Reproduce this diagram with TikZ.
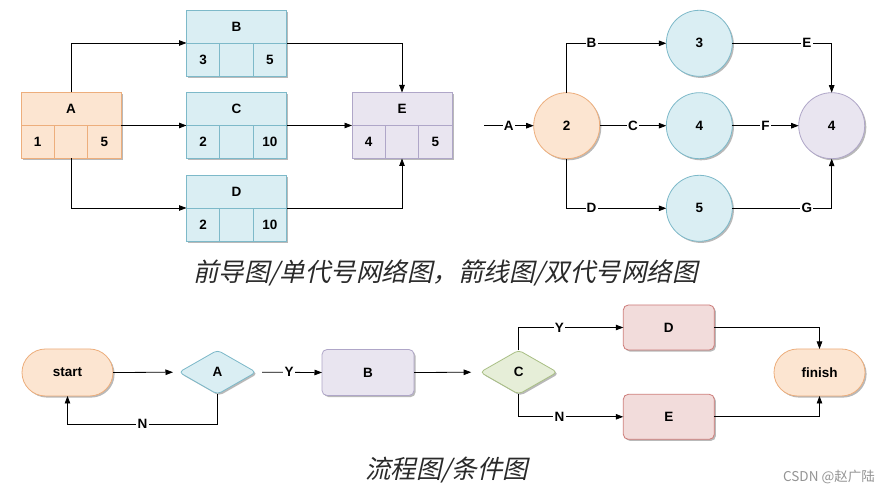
\documentclass[tikz,border=0pt]{standalone}
\usepackage{fontspec}
\setmainfont{Liberation Sans}
\newfontfamily\cjkit[FakeSlant=0.22]{Noto Sans CJK SC}
\newfontfamily\cjkplain{Noto Sans CJK SC}
\usetikzlibrary{arrows.meta,shapes.geometric,shapes.misc,shadows}
\definecolor{orF}{HTML}{FCE5D1}
\definecolor{orD}{HTML}{EDAE7C}
\definecolor{blF}{HTML}{DAEEF3}
\definecolor{blD}{HTML}{7DB9C9}
\definecolor{lvF}{HTML}{E9E5F0}
\definecolor{lvD}{HTML}{AFA6C8}
\definecolor{grF}{HTML}{E6EED8}
\definecolor{grD}{HTML}{A9BF85}
\definecolor{pkF}{HTML}{F2DCDB}
\definecolor{pkD}{HTML}{CD7B78}
\definecolor{capc}{HTML}{2A2A2A}
\tikzset{
  shad/.style={drop shadow={shadow xshift=1.6pt,shadow yshift=-1.6pt,fill=black!50,opacity=.55}},
  txt/.style={font=\bfseries\fontsize{13.5}{14}\selectfont, inner sep=0pt},
  lab/.style={fill=white, inner sep=1.2pt, font=\bfseries\fontsize{13.5}{14}\selectfont},
  arr/.style={draw=black, line width=0.8pt, -{Triangle[length=7.5pt,width=5.5pt]}},
  ln/.style={draw=black, line width=0.8pt},
  tbox/.style 2 args={draw=#2, fill=#1, line width=0.8pt, shad, minimum width=100, minimum height=66, inner sep=0pt, outer sep=0pt},
  circ/.style 2 args={circle, draw=#2, fill=#1, line width=0.8pt, shad, minimum size=66, inner sep=0pt, outer sep=0pt, font=\bfseries\fontsize{13.5}{14}\selectfont},
  stad/.style 2 args={rounded rectangle, draw=#2, fill=#1, line width=0.8pt, shad, minimum width=91, minimum height=47, inner sep=0pt, outer sep=0pt, font=\bfseries\fontsize{13.5}{14}\selectfont},
  rbox/.style 2 args={rectangle, rounded corners=5pt, draw=#2, fill=#1, line width=0.8pt, shad, minimum width=92, minimum height=46, inner sep=0pt, outer sep=0pt, font=\bfseries\fontsize{13.5}{14}\selectfont},
  dia/.style 2 args={diamond, rounded corners=4pt, draw=#2, fill=#1, line width=0.8pt, shad, minimum width=77, minimum height=44, inner sep=0pt, outer sep=0pt, font=\bfseries\fontsize{13.5}{14}\selectfont},
}
% name, x, y, label, left number, right number, fill, draw
\newcommand\taskbox[8]{%
  \node[tbox={#7}{#8}] (#1) at (#2,#3) {};
  \draw[#8, line width=0.8pt] (#1.west) -- (#1.east);
  \draw[#8, line width=0.8pt] ([xshift=33.3pt]#1.south west) -- ([xshift=33.3pt]#1.west);
  \draw[#8, line width=0.8pt] ([xshift=-33.3pt]#1.south east) -- ([xshift=-33.3pt]#1.east);
  \node[txt] (#1-t) at (#2,#3-16.5) {#4};
  \node[txt] (#1-l) at (#2-33.3,#3+16.5) {#5};
  \node[txt] (#1-r) at (#2+33.3,#3+16.5) {#6};
}
\begin{document}
\begin{tikzpicture}[x=1pt,y=-1pt]
\fill[white] (0,0) rectangle (895,494);
\useasboundingbox (0,0) rectangle (895,494);

% ---------- precedence diagram ----------
\taskbox{A}{71}{125.5}{A}{1}{5}{orF}{orD}
\taskbox{B}{236.5}{43}{B}{3}{5}{blF}{blD}
\taskbox{C}{236.5}{125.5}{C}{2}{10}{blF}{blD}
\taskbox{D}{236.5}{208}{D}{2}{10}{blF}{blD}
\taskbox{E}{402}{125.5}{E}{4}{5}{lvF}{lvD}
\draw[arr] (A.north) |- (B.west);
\draw[arr] (A.east) -- (C.west);
\draw[arr] (A.south) |- (D.west);
\draw[arr] (B.east) -| (E.north);
\draw[arr] (C.east) -- (E.west);
\draw[arr] (D.east) -| (E.south);

% ---------- arrow diagram ----------
\coordinate (s0) at (484,125.7);
\node[circ={orF}{orD}] (c2) at (566.7,125.7) {2};
\node[circ={blF}{blD}] (c3) at (699.3,43.3) {3};
\node[circ={blF}{blD}] (c4) at (699.3,125.7) {4};
\node[circ={blF}{blD}] (c5) at (699.3,208.3) {5};
\node[circ={lvF}{lvD}] (cR) at (831.7,125.7) {4};
\draw[arr] (s0) -- node[lab]{A} (c2.west);
\draw[arr] (c2.north) |- node[lab,pos=0.625]{B} (c3.west);
\draw[arr] (c2.east) -- node[lab]{C} (c4.west);
\draw[arr] (c2.south) |- node[lab,pos=0.625]{D} (c5.west);
\draw[arr] (c3.east) -| node[lab,pos=0.375]{E} (cR.north);
\draw[arr] (c4.east) -- node[lab]{F} (cR.west);
\draw[arr] (c5.east) -| node[lab,pos=0.375]{G} (cR.south);

% ---------- caption 1 ----------
\node[text=capc, inner sep=0pt, font=\cjkit\fontsize{25.5}{26}\selectfont] (cap1) at (445.5,273) {前导图/单代号网络图，箭线图/双代号网络图};

% ---------- flow chart ----------
\node[stad={orF}{orD}] (start) at (67.5,372.5) {start};
\node[dia={blF}{blD}] (dA) at (217.5,372.2) {A};
\node[rbox={lvF}{lvD}] (fB) at (368,372.5) {B};
\node[dia={grF}{grD}] (dC) at (518.7,372.2) {C};
\node[rbox={pkF}{pkD}, minimum width=91, minimum height=45] (fD) at (668.8,327.5) {D};
\node[rbox={pkF}{pkD}, minimum width=91, minimum height=45] (fE) at (668.8,416.8) {E};
\node[stad={orF}{orD}] (finish) at (819.5,372.5) {finish};
\draw[arr, shorten >=6pt] (start.east) -- (dA.west);
\draw[arr, shorten <=6pt] (dA.east) -- node[lab]{Y} (fB.west);
\draw[arr, shorten >=9pt] (fB.east) -- (dC.west);
\draw[arr] (dA.south) -- ++(0,30) -| node[lab,pos=0.25]{N} (start.south);
\draw[arr] (dC.north) |- node[lab,pos=0.695]{Y} (fD.west);
\draw[arr] (dC.south) |- node[lab,pos=0.695]{N} (fE.west);
\draw[arr] (fD.east) -| (finish.north);
\draw[arr] (fE.east) -| (finish.south);

% ---------- caption 2 and mark ----------
\node[text=capc, inner sep=0pt, font=\cjkit\fontsize{25.5}{26}\selectfont] (cap2) at (446.5,470) {流程图/条件图};
\node[text=black!42, inner sep=0pt, font=\cjkplain\fontsize{13.5}{14}\selectfont] (mark) at (829,477) {CSDN @赵广陆};
\end{tikzpicture}
\end{document}
